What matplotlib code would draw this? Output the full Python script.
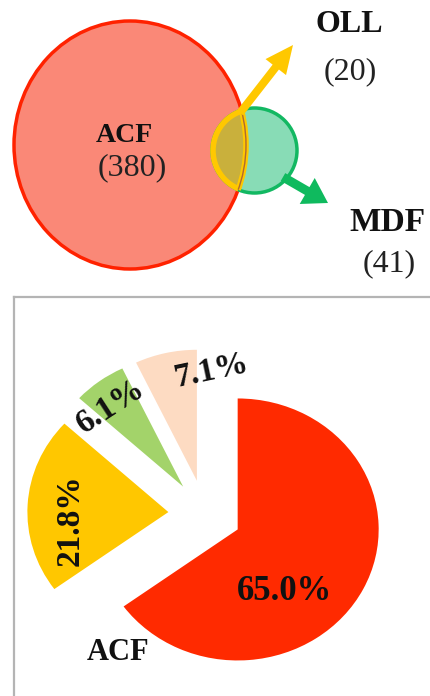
import numpy as np
import matplotlib
matplotlib.use("Agg")
import matplotlib.pyplot as plt
from matplotlib.patches import Ellipse, Circle, FancyArrow

# ---------------- data ----------------
venn_names = ["ACF", "OLL", "MDF"]
venn_counts = [380, 20, 41]

pie_labels = ["ACF", "", "", ""]
pie_values = [65.0, 21.8, 6.1, 7.1]
pie_colors = ["#ff2a00", "#ffc700", "#a3d36a", "#fddbc2"]

plt.rcParams["font.family"] = ["Liberation Serif", "DejaVu Serif"]

W, H = 431, 696
fig = plt.figure(figsize=(W / 100, H / 100), dpi=100)

# ---------------- top: Venn diagram (pixel-like coordinates) ----------------
axv = fig.add_axes([0, 1 - 290 / H, 1, 290 / H])
axv.set_xlim(0, W)
axv.set_ylim(290, 0)
axv.axis("off")

ell = Ellipse((130, 145), 232, 248, facecolor="#fa8877", edgecolor="#ff2200", lw=2.5, zorder=1)
axv.add_patch(ell)
circ = Circle((254.5, 150.5), 42.5, facecolor="#88dcb6", edgecolor="#12b862", lw=2.5, zorder=2)
axv.add_patch(circ)

# lens (intersection)
lens_fill = Circle((254.5, 150.5), 41.5, facecolor="#c9b03c", edgecolor="#ffc800", lw=4.0, zorder=3)
axv.add_patch(lens_fill)
lens_fill.set_clip_path(ell)
lens_edge = Ellipse((130, 145), 232, 248, facecolor="none", edgecolor="#ffc800", lw=4.0, zorder=4)
axv.add_patch(lens_edge)
lens_edge.set_clip_path(circ)
lens_line = Ellipse((130, 145), 232, 248, facecolor="none", edgecolor="#b06a30", lw=1.0, zorder=4.5)
axv.add_patch(lens_line)
lens_line.set_clip_path(circ)

# arrows
axv.add_patch(FancyArrow(240, 113, 53, -68, width=8, head_width=26, head_length=28,
                         length_includes_head=True, color="#ffc800", lw=0, zorder=5))
axv.add_patch(FancyArrow(283, 177, 45, 26, width=9, head_width=30, head_length=24,
                         length_includes_head=True, color="#0fba5e", lw=0, zorder=5))

name_pos = [(124, 135), (349, 24), (387, 222)]
num_pos = [(132, 168), (350, 72), (389, 264)]
name_sizes = [20, 23, 24]
for name, cnt, (nx, ny), (cx_, cy_), fs in zip(venn_names, venn_counts, name_pos, num_pos, name_sizes):
    axv.text(nx, ny, name, ha="center", va="center", fontsize=fs, fontweight="bold", color="#111111", zorder=6)
    axv.text(cx_, cy_, f"({cnt})", ha="center", va="center", fontsize=23, color="#222222", zorder=6)

# ---------------- bottom: exploded pie ----------------
cx, cy, rx, ry = 205.0, 514.0, 141.0, 131.0
left_px, top_px = 14, 297
axp = fig.add_axes([left_px / W, 0, (W - left_px) / W, (H - top_px) / H])
wedges, texts, autotexts = axp.pie(
    pie_values, labels=pie_labels, colors=pie_colors, explode=[0.26] * 4,
    startangle=90, counterclock=False, autopct="%1.1f%%", frame=True,
    wedgeprops=dict(linewidth=0),
    textprops=dict(fontweight="bold", color="#111111"))
axp.set_aspect("auto")
axp.set_xlim((left_px - cx) / rx, (W - cx) / rx)
axp.set_ylim((cy - H) / ry, (cy - top_px) / ry)
axp.set_xticks([])
axp.set_yticks([])
for s in ["right", "bottom"]:
    axp.spines[s].set_visible(False)
for s in ["left", "top"]:
    axp.spines[s].set_color("#b4b4b4")
    axp.spines[s].set_linewidth(1.6)

def to_data(px, py):
    return ((px - cx) / rx, (cy - py) / ry)

pct_pos = [(285, 592), (70, 520), (111, 406), (211, 371)]
pct_rot = [0, 90, 33, 12]
pct_size = [25, 24, 24, 24]
for t, p, r, fs in zip(autotexts, pct_pos, pct_rot, pct_size):
    t.set_position(to_data(*p))
    t.set_rotation(r)
    t.set_fontsize(fs)
    t.set_ha("center")
    t.set_va("center")
    t.set_rotation_mode("anchor")
texts[0].set_position(to_data(118, 653))
texts[0].set_fontsize(22)
texts[0].set_ha("center")
texts[0].set_va("center")

fig.savefig("out.png", dpi=100)
